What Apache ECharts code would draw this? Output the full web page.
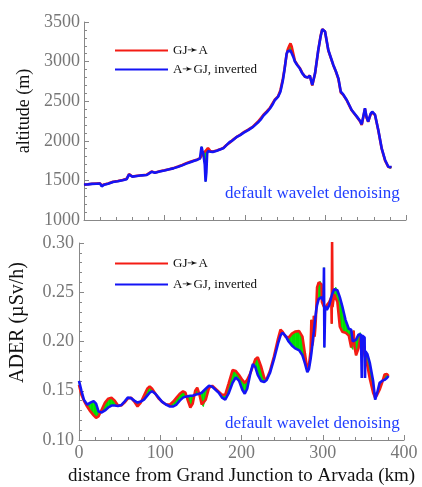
<!DOCTYPE html>
<html>
<head>
<meta charset="utf-8">
<script src="https://cdn.jsdelivr.net/npm/echarts@6/dist/echarts.min.js"></script>
<style>
  html, body { margin: 0; padding: 0; background: #fff; }
  #chart { width: 422px; height: 487px; }
</style>
</head>
<body>
<div id="chart"></div>
<script>
// altitude panel
var altKm = [0, 5, 10, 15, 20, 22, 25, 30, 36, 42, 48, 53, 56, 60, 66, 72, 78, 84, 88, 94,
    100, 106, 111, 117, 122, 127, 132, 137, 141, 144, 145, 146, 147, 148, 149, 150, 151, 152, 153, 154,
    155, 157, 160, 165, 169, 173, 177, 181, 184, 190, 194, 198, 204, 210, 216, 220, 223, 227, 231, 234,
    237, 241, 244, 247, 249, 251.7, 253, 255, 256.5, 258, 260, 262, 265, 268, 271, 274.5, 278, 280.5, 283.6, 287,
    291, 294, 296, 299.4, 303.5, 306.5, 309.7, 313, 316, 319, 322, 326.4, 332.5, 339, 343, 345, 347, 349, 351, 353,
    356, 358, 361.5, 365.6, 369.8, 374, 378, 380, 382];
var altRed = [1445, 1452, 1458, 1460, 1462, 1435, 1448, 1460, 1482, 1492, 1505, 1520, 1580, 1550, 1558, 1566, 1572, 1612, 1598, 1615,
    1628, 1642, 1655, 1675, 1695, 1716, 1735, 1752, 1765, 1780, 1790, 1810, 1830, 1850, 1860, 1865, 1870, 1880, 1895, 1910,
    1905, 1870, 1865, 1878, 1892, 1910, 1947, 1975, 2005, 2052, 2075, 2105, 2140, 2180, 2240, 2290, 2330, 2370, 2415, 2470,
    2520, 2560, 2640, 2780, 2900, 3090, 3150, 3200, 3230, 3190, 3100, 3010, 2960, 2920, 2860, 2810, 2800, 2825, 2700, 2850,
    3140, 3330, 3410, 3380, 3140, 3050, 2955, 2870, 2780, 2610, 2580, 2510, 2385, 2300, 2245, 2200, 2300, 2405, 2290, 2240,
    2330, 2360, 2325, 2130, 1900, 1750, 1670, 1650, 1665];
var altBlue = [1448, 1450, 1456, 1458, 1460, 1425, 1446, 1458, 1480, 1490, 1503, 1515, 1575, 1548, 1556, 1564, 1568, 1608, 1596, 1612,
    1625, 1640, 1652, 1672, 1690, 1712, 1730, 1748, 1762, 1775, 1850, 1926, 1880, 1850, 1840, 1700, 1484, 1600, 1840, 1870,
    1875, 1862, 1860, 1875, 1890, 1905, 1945, 1985, 2000, 2050, 2072, 2100, 2135, 2176, 2230, 2275, 2320, 2360, 2408, 2455,
    2512, 2555, 2620, 2760, 2890, 3100, 3130, 3135, 3140, 3120, 3060, 3000, 2955, 2915, 2855, 2810, 2800, 2822, 2705, 2852,
    3146, 3320, 3408, 3380, 3146, 3055, 2957, 2875, 2789, 2620, 2585, 2515, 2389, 2305, 2250, 2208, 2310, 2410, 2300, 2242,
    2340, 2368, 2330, 2136, 1905, 1758, 1673, 1652, 1668];

// ADER panel
var aderKm = [0, 3, 6, 10, 14, 18, 21, 24, 28, 32, 36, 40, 44, 48, 52, 56, 60, 64, 68, 72,
    76, 80, 84, 87, 90, 94, 98, 102, 107, 112, 116, 120, 124, 128, 131, 134, 137, 140, 143, 145.5,
    148, 151, 153, 156, 160, 164, 168, 172, 176, 180, 184, 189, 193, 197, 201, 204, 207, 211, 214, 217,
    220, 224, 228, 231, 235, 240, 245, 248, 250.5, 254, 258, 262, 266, 271, 275, 278, 281, 283, 285, 286,
    287, 288, 289, 290, 291, 292, 293, 295, 297, 298.5, 299, 301, 301.5, 302, 303, 305, 308, 310.5, 311, 311.5,
    312, 314, 316, 318, 321, 324, 328, 332, 335, 337, 338, 339, 341, 344, 346, 347, 348, 348.5, 351.5, 352,
    352.5, 355, 358, 362, 364.5, 367, 370, 373, 376, 379, 381];
var aderRed = [0.156, 0.146, 0.140, 0.134, 0.129, 0.125, 0.1225, 0.124, 0.131, 0.138, 0.142, 0.143, 0.140, 0.135, 0.135, 0.138, 0.142, 0.143, 0.139, 0.134,
    0.138, 0.145, 0.152, 0.1545, 0.152, 0.147, 0.142, 0.139, 0.136, 0.136, 0.139, 0.143, 0.147, 0.1495, 0.148, 0.140, 0.133, 0.137, 0.150, 0.153,
    0.147, 0.136, 0.134, 0.141, 0.153, 0.155, 0.152, 0.149, 0.146, 0.146, 0.157, 0.171, 0.170, 0.166, 0.161, 0.158, 0.161, 0.168, 0.175, 0.182,
    0.184, 0.175, 0.163, 0.162, 0.170, 0.185, 0.203, 0.212, 0.210, 0.205, 0.204, 0.208, 0.210, 0.2106, 0.205, 0.188, 0.172, 0.176, 0.190, 0.222,
    0.196, 0.200, 0.226, 0.205, 0.215, 0.232, 0.255, 0.260, 0.261, 0.258, 0.240, 0.236, 0.235, 0.234, 0.233, 0.237, 0.240, 0.245, 0.218, 0.301,
    0.235, 0.248, 0.247, 0.240, 0.215, 0.210, 0.209, 0.206, 0.194, 0.192, 0.211, 0.195, 0.186, 0.193, 0.203, 0.205, 0.206, 0.200, 0.186, 0.184,
    0.183, 0.175, 0.162, 0.148, 0.143, 0.146, 0.151, 0.158, 0.1664, 0.167, 0.165];
var aderBlue = [0.160, 0.150, 0.141, 0.136, 0.138, 0.1395, 0.137, 0.129, 0.128, 0.130, 0.133, 0.135, 0.135, 0.1345, 0.1355, 0.139, 0.143, 0.1425, 0.140, 0.138,
    0.139, 0.141, 0.145, 0.148, 0.1495, 0.147, 0.143, 0.139, 0.136, 0.134, 0.134, 0.136, 0.140, 0.143, 0.144, 0.1445, 0.145, 0.145, 0.146, 0.1465,
    0.147, 0.148, 0.150, 0.152, 0.155, 0.154, 0.151, 0.148, 0.143, 0.141, 0.147, 0.158, 0.1635, 0.160, 0.151, 0.147, 0.152, 0.168, 0.177, 0.174,
    0.166, 0.160, 0.159, 0.161, 0.168, 0.182, 0.198, 0.206, 0.209, 0.206, 0.200, 0.196, 0.193, 0.191, 0.186, 0.178, 0.169, 0.172, 0.182, 0.188,
    0.195, 0.203, 0.210, 0.218, 0.225, 0.232, 0.237, 0.243, 0.245, 0.245, 0.245, 0.241, 0.275, 0.194, 0.236, 0.232, 0.237, 0.245, 0.247, 0.248,
    0.249, 0.253, 0.255, 0.252, 0.245, 0.236, 0.222, 0.213, 0.212, 0.200, 0.199, 0.199, 0.202, 0.207, 0.209, 0.207, 0.163, 0.206, 0.204, 0.163,
    0.190, 0.187, 0.178, 0.160, 0.141, 0.148, 0.158, 0.160, 0.161, 0.163, 0.165];

var redName = 'GJ\u279BA';
var blueName = 'A\u279BGJ, inverted';

var serif = 'Liberation Serif, Times New Roman, serif';
var red = '#f41c14';
var blue = '#1414f5';
var green = '#00e000';

function pairs(xs, ys) {
    return xs.map(function (x, i) { return [x, ys[i]]; });
}

// green band between the two runs, one quad per segment
function band(xs, a, b) {
    return function (params, api) {
        var i = params.dataIndex;
        if (i >= xs.length - 1) return;
        return {
            type: 'polygon',
            shape: {
                points: [
                    api.coord([xs[i], a[i]]),
                    api.coord([xs[i + 1], a[i + 1]]),
                    api.coord([xs[i + 1], b[i + 1]]),
                    api.coord([xs[i], b[i]])
                ]
            },
            style: { fill: green, stroke: green, lineWidth: 0.6 }
        };
    };
}

function xAxisCfg(grid, showLabels) {
    return {
        type: 'value', gridIndex: grid, min: 0, max: 400, interval: 100,
        axisLine: { lineStyle: { color: '#888', width: 1 } },
        axisTick: { inside: true, length: 5, lineStyle: { color: '#888' } },
        minorTick: { show: true, splitNumber: 5, length: 3, lineStyle: { color: '#888' } },
        splitLine: { show: false },
        axisLabel: { show: showLabels, color: '#777', fontFamily: serif, fontSize: 18, margin: 4 }
    };
}

var chart = echarts.init(document.getElementById('chart'));

var option = {
    animation: false,
    grid: [
        { left: 84, right: 16, top: 22, height: 198 },
        { left: 77, right: 18, top: 243, height: 202 }
    ],
    legend: [
        {
            data: [redName, blueName], left: 110, top: 39, orient: 'vertical',
            icon: 'rect', itemWidth: 53, itemHeight: 2, itemGap: 6,
            textStyle: { fontFamily: serif, fontSize: 13, color: '#111' }
        },
        {
            data: [redName, blueName], left: 110, top: 252, orient: 'vertical',
            icon: 'rect', itemWidth: 53, itemHeight: 2, itemGap: 8,
            textStyle: { fontFamily: serif, fontSize: 13, color: '#111' }
        }
    ],
    xAxis: [
        xAxisCfg(0, false),
        Object.assign(xAxisCfg(1, true), {
            name: 'distance from Grand Junction to Arvada (km)',
            nameLocation: 'middle', nameGap: 27,
            nameTextStyle: { fontFamily: serif, fontSize: 19, color: '#111' }
        })
    ],
    yAxis: [
        {
            type: 'value', gridIndex: 0, min: 1000, max: 3500, interval: 500,
            name: 'altitude (m)', nameLocation: 'middle', nameGap: 48,
            nameTextStyle: { fontFamily: serif, fontSize: 18, color: '#111', padding: [0, 0, 0, 20] },
            axisLine: { show: true, lineStyle: { color: '#888' } },
            axisTick: { inside: true, length: 5, lineStyle: { color: '#888' } },
            minorTick: { show: true, splitNumber: 5, length: 3, lineStyle: { color: '#888' } },
            splitLine: { show: false },
            axisLabel: {
                color: '#777', fontFamily: serif, fontSize: 18, margin: 4,
                formatter: function (v) { return String(v); }
            }
        },
        {
            type: 'value', gridIndex: 1, min: 0.10, max: 0.30, interval: 0.05,
            name: 'ADER (\u00B5Sv/h)', nameLocation: 'middle', nameGap: 51,
            nameTextStyle: { fontFamily: serif, fontSize: 20, color: '#111', padding: [0, 0, 0, 38] },
            axisLine: { show: true, lineStyle: { color: '#888' } },
            axisTick: { inside: true, length: 5, lineStyle: { color: '#888' } },
            minorTick: { show: true, splitNumber: 5, length: 3, lineStyle: { color: '#888' } },
            splitLine: { show: false },
            axisLabel: {
                color: '#777', fontFamily: serif, fontSize: 18, margin: 5,
                formatter: function (v) { return v.toFixed(2); }
            }
        }
    ],
    graphic: [
        {
            type: 'text', left: 225, top: 185,
            style: { text: 'default wavelet denoising', fill: '#1f3dff', font: '17px ' + serif }
        },
        {
            type: 'text', left: 225, top: 415,
            style: { text: 'default wavelet denoising', fill: '#1f3dff', font: '17px ' + serif }
        }
    ],
    series: [
        {
            type: 'custom', xAxisIndex: 0, yAxisIndex: 0, silent: true,
            renderItem: band(altKm, altRed, altBlue),
            data: pairs(altKm, altRed)
        },
        {
            name: redName, type: 'line', xAxisIndex: 0, yAxisIndex: 0,
            data: pairs(altKm, altRed), showSymbol: false, color: red,
            lineStyle: { width: 2.6, color: red }
        },
        {
            name: blueName, type: 'line', xAxisIndex: 0, yAxisIndex: 0,
            data: pairs(altKm, altBlue), showSymbol: false, color: blue,
            lineStyle: { width: 2.6, color: blue }
        },
        {
            type: 'custom', xAxisIndex: 1, yAxisIndex: 1, silent: true,
            renderItem: band(aderKm, aderRed, aderBlue),
            data: pairs(aderKm, aderRed)
        },
        {
            name: redName, type: 'line', xAxisIndex: 1, yAxisIndex: 1,
            data: pairs(aderKm, aderRed), showSymbol: false, color: red,
            lineStyle: { width: 2.6, color: red }
        },
        {
            name: blueName, type: 'line', xAxisIndex: 1, yAxisIndex: 1,
            data: pairs(aderKm, aderBlue), showSymbol: false, color: blue,
            lineStyle: { width: 2.6, color: blue }
        }
    ]
};

chart.setOption(option);
</script>
</body>
</html>
